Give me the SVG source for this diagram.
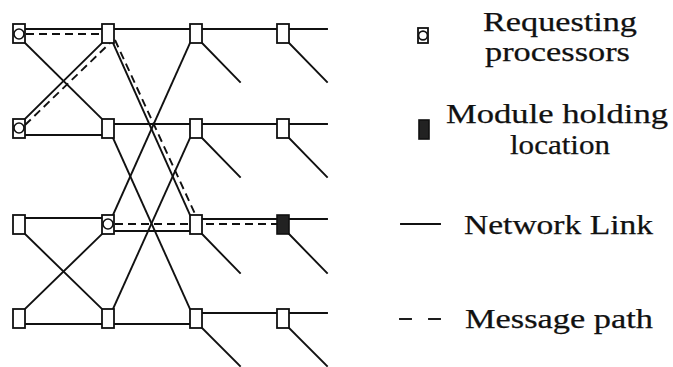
<svg xmlns="http://www.w3.org/2000/svg" width="673" height="367" viewBox="0 0 673 367">
  <style>
    .link { stroke: #111; stroke-width: 1.9; fill: none; stroke-linecap: square; }
    .path { stroke: #111; stroke-width: 1.9; fill: none; stroke-dasharray: 8 5; }
    .sw { fill: #fff; stroke: #111; stroke-width: 1.8; }
    .proc { fill: #fff; stroke: #111; stroke-width: 1.6; }
    .mod { fill: #222; stroke: #111; stroke-width: 1.6; }
    text { font-family: 'Liberation Serif', serif; font-size: 28px; fill: #111; stroke: #111; stroke-width: 0.25; }
  </style>

  <!-- network links and message path -->
  <g id="connectors">
    <!-- horizontal links, row 0 -->
    <line class="link" x1="19" y1="29" x2="327" y2="29"/>
    <!-- row 1 -->
    <line class="link" x1="25" y1="135" x2="102" y2="135"/>
    <line class="link" x1="114" y1="124" x2="327" y2="124"/>
    <!-- row 2 -->
    <line class="link" x1="25" y1="218" x2="102" y2="218"/>
    <line class="link" x1="114" y1="231" x2="190" y2="231"/>
    <line class="link" x1="202" y1="219" x2="327" y2="219"/>
    <!-- row 3 -->
    <line class="link" x1="25" y1="324" x2="190" y2="324"/>
    <line class="link" x1="202" y1="313" x2="327" y2="313"/>

    <!-- stage 1 crossings -->
    <line class="link" x1="25" y1="43" x2="102" y2="119"/>
    <line class="link" x1="25" y1="119" x2="102" y2="43"/>
    <line class="link" x1="25" y1="234" x2="102" y2="309"/>
    <line class="link" x1="25" y1="309" x2="102" y2="234"/>

    <!-- stage 2 crossings -->
    <line class="link" x1="113" y1="43" x2="190" y2="215"/>
    <line class="link" x1="113" y1="215" x2="190" y2="43"/>
    <line class="link" x1="113" y1="138" x2="190" y2="309"/>
    <line class="link" x1="113" y1="309" x2="190" y2="138"/>

    <!-- outgoing stubs -->
    <line class="link" x1="202" y1="43" x2="240" y2="82"/>
    <line class="link" x1="289" y1="43" x2="327" y2="82"/>
    <line class="link" x1="202" y1="138" x2="240" y2="177"/>
    <line class="link" x1="289" y1="138" x2="327" y2="177"/>
    <line class="link" x1="202" y1="234" x2="240" y2="273"/>
    <line class="link" x1="289" y1="234" x2="327" y2="273"/>
    <line class="link" x1="202" y1="328" x2="240" y2="366"/>
    <line class="link" x1="289" y1="328" x2="327" y2="366"/>

    <!-- message path -->
    <line class="path" x1="26" y1="34" x2="102" y2="34"/>
    <line class="path" x1="25" y1="125" x2="110" y2="43"/>
    <line class="path" x1="115" y1="40" x2="196" y2="216"/>
    <line class="path" x1="115" y1="224" x2="277" y2="224"/>
  </g>

  <!-- column 0 -->
  <g id="n00"><rect class="sw" x="13" y="24" width="12" height="19"/><circle class="proc" cx="19" cy="34" r="5"/></g>
  <g id="n10"><rect class="sw" x="13" y="119" width="12" height="19"/><circle class="proc" cx="19" cy="128" r="5"/></g>
  <g id="n20"><rect class="sw" x="13" y="215" width="12" height="19"/></g>
  <g id="n30"><rect class="sw" x="13" y="309" width="12" height="19"/></g>
  <!-- column 1 -->
  <g id="n01"><rect class="sw" x="102" y="24" width="12" height="19"/></g>
  <g id="n11"><rect class="sw" x="102" y="119" width="12" height="19"/></g>
  <g id="n21"><rect class="sw" x="102" y="215" width="12" height="19"/><circle class="proc" cx="108" cy="224" r="5"/></g>
  <g id="n31"><rect class="sw" x="102" y="309" width="12" height="19"/></g>
  <!-- column 2 -->
  <g id="n02"><rect class="sw" x="190" y="24" width="12" height="19"/></g>
  <g id="n12"><rect class="sw" x="190" y="119" width="12" height="19"/></g>
  <g id="n22"><rect class="sw" x="190" y="215" width="12" height="19"/></g>
  <g id="n32"><rect class="sw" x="190" y="309" width="12" height="19"/></g>
  <!-- column 3 -->
  <g id="n03"><rect class="sw" x="277" y="24" width="12" height="19"/></g>
  <g id="n13"><rect class="sw" x="277" y="119" width="12" height="19"/></g>
  <g id="n23"><rect class="mod" x="277" y="215" width="12" height="19"/></g>
  <g id="n33"><rect class="sw" x="277" y="309" width="12" height="19"/></g>

  <!-- legend -->
  <g id="legend" font-family="Liberation Serif, serif">
    <rect class="sw" x="418" y="28" width="10" height="15" stroke-width="1.6"/>
    <circle class="proc" cx="423" cy="35.5" r="4.4"/>
    <text x="483" y="31" textLength="154" lengthAdjust="spacingAndGlyphs">Requesting</text>
    <text x="485" y="61" textLength="145" lengthAdjust="spacingAndGlyphs">processors</text>

    <rect class="mod" x="419" y="120" width="10" height="19"/>
    <text x="446" y="123" textLength="222" lengthAdjust="spacingAndGlyphs">Module holding</text>
    <text x="510" y="154" textLength="100" lengthAdjust="spacingAndGlyphs">location</text>

    <line class="link" x1="401" y1="224" x2="440" y2="224"/>
    <text x="464" y="234" textLength="189" lengthAdjust="spacingAndGlyphs">Network Link</text>

    <line class="link" x1="400" y1="319" x2="411" y2="319" stroke-linecap="butt"/>
    <line class="link" x1="429" y1="319" x2="440" y2="319" stroke-linecap="butt"/>
    <text x="465" y="328" textLength="188" lengthAdjust="spacingAndGlyphs">Message path</text>
  </g>
</svg>
